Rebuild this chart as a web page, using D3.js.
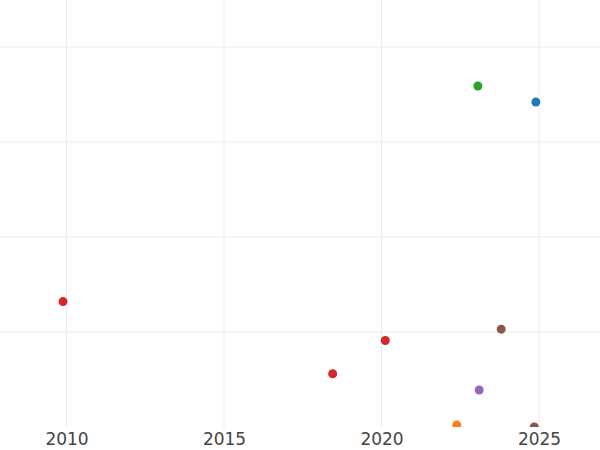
<!DOCTYPE html>
<html lang="en">
<head>
<meta charset="utf-8">
<title>Scatter</title>
<script src="https://d3js.org/d3.v7.min.js"></script>
<style>
  body { margin: 0; background: #fff; }
</style>
</head>
<body>
<script type="text/javascript">

// data
var years  = [2023.06, 2024.90, 2009.89, 2020.12, 2018.45, 2023.80, 2023.10, 2022.39, 2024.85];
var values = [3.59, 3.42, 1.32, 0.91, 0.56, 1.03, 0.39, 0.02, 0.00];
var groups = ["green", "blue", "red", "red", "red", "brown", "purple", "orange", "brown"];

var groupNames = ["blue", "orange", "green", "red", "purple", "brown"];
var xTicks = [2010, 2015, 2020, 2025];
var yTicks = [1, 2, 3, 4];

var w = 600, h = 450;
var plotBottom = 427;

var x = d3.scaleLinear()
    .domain([2010, 2025])
    .range([66.5, 539]);

var y = d3.scaleLinear()
    .domain([0, 4])
    .range([plotBottom, 47]);

var color = d3.scaleOrdinal()
    .domain(groupNames)
    .range(["#1f77b4", "#ff7f0e", "#2ca02c", "#d62728", "#9467bd", "#8c564b"]);

var svg = d3.select("body")
    .append("svg")
    .attr("width", w)
    .attr("height", h);

svg.append("defs").append("clipPath")
    .attr("id", "plot-clip")
    .append("rect")
    .attr("x", 0).attr("y", 0)
    .attr("width", w).attr("height", plotBottom);

// grid
var grid = svg.append("g");

grid.selectAll("line.h")
    .data(yTicks)
    .enter().append("line")
    .attr("class", "h")
    .attr("x1", 0).attr("x2", w)
    .attr("y1", d => y(d)).attr("y2", d => y(d))
    .attr("stroke", "#ebebeb")
    .attr("stroke-width", 1);

grid.selectAll("line.v")
    .data(xTicks)
    .enter().append("line")
    .attr("class", "v")
    .attr("x1", d => x(d)).attr("x2", d => x(d))
    .attr("y1", 0).attr("y2", plotBottom)
    .attr("stroke", "#ebebeb")
    .attr("stroke-width", 1);

// points
var points = years.map((yr, i) => ({year: yr, value: values[i], group: groups[i]}));

svg.append("g")
    .attr("clip-path", "url(#plot-clip)")
    .selectAll("circle")
    .data(points)
    .enter().append("circle")
    .attr("cx", d => x(d.year))
    .attr("cy", d => y(d.value))
    .attr("r", 4.5)
    .attr("fill", d => color(d.group));

// x axis labels only
var xAxis = d3.axisBottom(x)
    .tickValues(xTicks)
    .tickFormat(d3.format("d"))
    .tickSize(0)
    .tickPadding(6);

var ax = svg.append("g")
    .attr("transform", "translate(0," + plotBottom + ")")
    .call(xAxis);

ax.select(".domain").remove();
ax.selectAll("text")
    .attr("fill", "#444")
    .style("font-family", "DejaVu Sans, sans-serif")
    .style("font-size", "17px");

</script>
</body>
</html>
